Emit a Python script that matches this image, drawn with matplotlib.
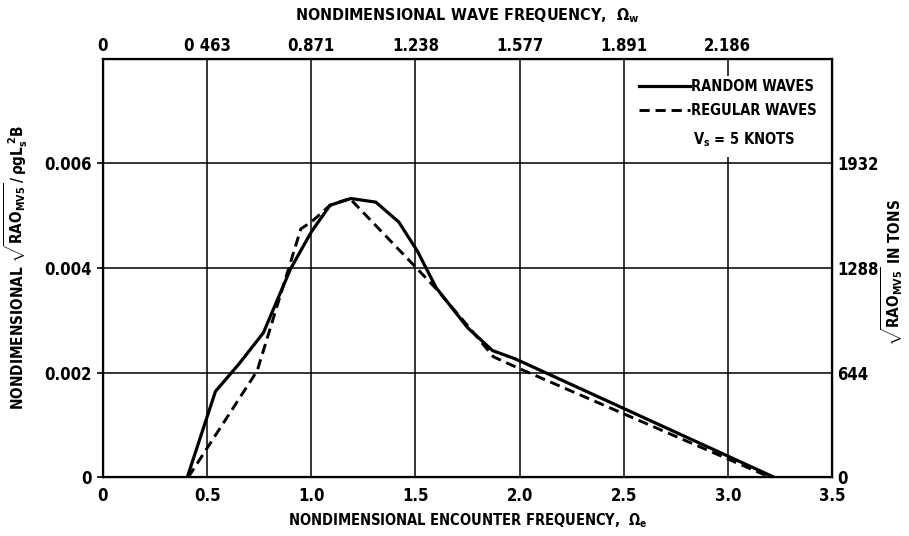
import matplotlib
matplotlib.use('Agg')
import matplotlib.pyplot as plt
from matplotlib.patches import Rectangle

plt.rcParams['font.family'] = ['DejaVu Sans']
plt.rcParams['font.stretch'] = 'condensed'
plt.rcParams['font.weight'] = 'bold'
plt.rcParams['axes.labelweight'] = 'bold'
plt.rcParams['mathtext.fontset'] = 'custom'
plt.rcParams['mathtext.rm'] = 'DejaVu Sans:weight=bold:stretch=condensed'
plt.rcParams['mathtext.it'] = 'DejaVu Sans:weight=bold:stretch=condensed'
plt.rcParams['mathtext.bf'] = 'DejaVu Sans:weight=bold:stretch=condensed'

# random waves (solid)
random_x = [0.405, 0.54, 0.65, 0.77, 0.90, 1.0, 1.09, 1.19, 1.31, 1.42, 1.51, 1.60,
            1.75, 1.87, 1.98, 3.22]
random_y = [0.0, 0.00164, 0.00215, 0.00276, 0.00398, 0.00469, 0.0052, 0.00533, 0.00526,
            0.00488, 0.00432, 0.00362, 0.00286, 0.00242, 0.00226, 0.0]

# regular waves (dashed)
regular_x = [0.41, 0.74, 0.95, 1.0, 1.09, 1.185, 1.505, 1.60, 1.75, 1.875, 1.985, 3.20]
regular_y = [0.0, 0.00203, 0.00475, 0.00488, 0.0052, 0.00533, 0.004, 0.0036, 0.0029,
             0.0023, 0.0021, 0.0]

enc_ticks = [0, 0.5, 1.0, 1.5, 2.0, 2.5, 3.0, 3.5]
enc_labels = ['0', '0.5', '1.0', '1.5', '2.0', '2.5', '3.0', '3.5']
wave_ticks = [0, 0.5, 1.0, 1.5, 2.0, 2.5, 3.0]
wave_labels = ['0', '0 463', '0.871', '1.238', '1.577', '1.891', '2.186']
y_ticks = [0, 0.002, 0.004, 0.006]
y_labels = ['0', '0.002', '0.004', '0.006']
tons_labels = ['0', '644', '1288', '1932']

fig = plt.figure(figsize=(9.09, 5.36), dpi=100)
ax = fig.add_axes([0.1133, 0.110, 0.802, 0.780])

ax.set_xlim(0, 3.5)
ax.set_ylim(0, 0.008)
for x in enc_ticks[1:-1]:
    ax.axvline(x, color='black', lw=1.1, zorder=1)
for y in y_ticks[1:]:
    ax.axhline(y, color='black', lw=1.1, zorder=1)

# white patch behind the key, hides the grid there
ax.add_patch(Rectangle((0.74, 0.765), 0.25, 0.195, transform=ax.transAxes,
                       facecolor='white', edgecolor='none', zorder=2))

ax.plot(random_x, random_y, color='black', lw=2.3, solid_joinstyle='miter',
        label='RANDOM WAVES', zorder=3)
ax.plot(regular_x, regular_y, color='black', lw=2.1, dashes=(3.5, 2.0),
        label='REGULAR WAVES', zorder=3)

for s in ax.spines.values():
    s.set_linewidth(1.6)

ax.set_xticks(enc_ticks)
ax.set_xticklabels(enc_labels, fontsize=12)
ax.set_yticks(y_ticks)
ax.set_yticklabels(y_labels, fontsize=12)
ax.tick_params(axis='x', length=0, pad=7)
ax.tick_params(axis='y', length=4, width=1.2, pad=4)
ax.set_xlabel(r'NONDIMENSIONAL ENCOUNTER FREQUENCY,  $\Omega_e$', fontsize=10.5, labelpad=5)
ax.set_ylabel(r'NONDIMENSIONAL $\sqrt{\mathrm{RAO}_{\mathrm{MV5}}}\,/\,\rho g L_s^{\,2} B$',
              fontsize=11, labelpad=10)

top = ax.twiny()
top.set_xlim(ax.get_xlim())
top.set_xticks(wave_ticks)
top.set_xticklabels(wave_labels, fontsize=12)
top.tick_params(axis='x', length=0, pad=3)
top.set_xlabel(r'NONDIMENSIONAL WAVE FREQUENCY,  $\Omega_w$', fontsize=11.5, labelpad=12)

right = ax.twinx()
right.set_ylim(ax.get_ylim())
right.set_yticks(y_ticks)
right.set_yticklabels(tons_labels, fontsize=12)
right.tick_params(axis='y', length=0, pad=4)
right.set_ylabel(r'$\sqrt{\mathrm{RAO}_{\mathrm{MV5}}}$ IN TONS', fontsize=11)
right.yaxis.label.set_ha('center')
right.yaxis.label.set_va('center')
right.yaxis.set_label_coords(1.082, 0.49)

leg = ax.legend(loc='upper left', bbox_to_anchor=(0.719, 0.98), frameon=False,
                handlelength=3.5, handletextpad=0.05, fontsize=10.5,
                borderpad=0.3, labelspacing=0.6)
leg.set_zorder(5)
ax.text(0.809, 0.806, r'V$_s$ = 5 KNOTS', transform=ax.transAxes, fontsize=10.5,
        ha='left', va='center', zorder=6)

fig.savefig('out.png', dpi=100)
